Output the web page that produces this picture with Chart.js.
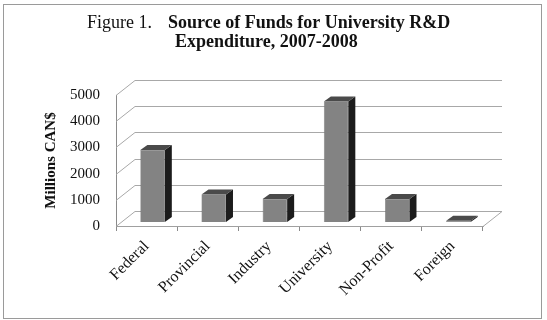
<!DOCTYPE html>
<html>
<head>
<meta charset="utf-8">
<script src="https://cdn.jsdelivr.net/npm/chart.js@4.4.1/dist/chart.umd.min.js"></script>
<style>
  html, body { margin: 0; padding: 0; background: #fff; }
  #wrap { width: 547px; height: 320px; }
</style>
</head>
<body>
<div id="wrap"><canvas id="fundsChart" width="547" height="320"></canvas></div>
<script>
// ===== DATA =====
const categories = ['Federal', 'Provincial', 'Industry', 'University', 'Non-Profit', 'Foreign'];
const fundsMillions = [2750, 1050, 880, 4600, 880, 50];
const yTicks = [0, 1000, 2000, 3000, 4000, 5000];

const SERIF = "'Liberation Serif', 'Times New Roman', serif";
const WALL_DX = 19, WALL_DY = 15;   // depth of back wall
const BAR_DX = 6, BAR_DY = 4;       // bars sit a little behind the front
const BAR_DEPTH_X = 7, BAR_DEPTH_Y = 5;

// ===== 3D-ish plugin: frame, title, walls, bar faces =====
const pseudo3d = {
  id: 'pseudo3d',
  beforeDraw(chart) {
    const { ctx } = chart;
    ctx.save();
    ctx.strokeStyle = '#9a9a9a';
    ctx.lineWidth = 1;
    ctx.strokeRect(3.5, 4.5, 538, 314);

    ctx.fillStyle = '#111';
    ctx.textBaseline = 'alphabetic';
    ctx.textAlign = 'left';
    ctx.font = '18px ' + SERIF;
    ctx.fillText('Figure 1.', 87, 28);
    ctx.font = 'bold 18px ' + SERIF;
    ctx.fillText('Source of Funds for University R&D', 168, 28);
    ctx.fillText('Expenditure, 2007-2008', 175, 47);
    ctx.restore();
  },
  beforeDatasetsDraw(chart) {
    const { ctx, chartArea: { left, right, bottom } } = chart;
    const y = chart.scales.y;
    ctx.save();
    ctx.strokeStyle = '#a8a8a8';
    ctx.lineWidth = 1;
    yTicks.forEach(v => {
      const py = Math.round(y.getPixelForValue(v)) + 0.5;
      ctx.beginPath();
      ctx.moveTo(left, py);
      ctx.lineTo(left + WALL_DX, py - WALL_DY);
      ctx.lineTo(right + WALL_DX, py - WALL_DY);
      ctx.stroke();
    });
    // right edge of the floor
    ctx.beginPath();
    ctx.moveTo(right, bottom + 0.5);
    ctx.lineTo(right + WALL_DX, bottom + 0.5 - WALL_DY);
    ctx.stroke();
    ctx.restore();

    ctx.save();
    ctx.translate(BAR_DX, -BAR_DY);
  },
  afterDatasetsDraw(chart) {
    const { ctx } = chart;
    chart.getDatasetMeta(0).data.forEach(bar => {
      const { x, y, base, width } = bar.getProps(['x', 'y', 'base', 'width'], true);
      const l = x - width / 2, r = x + width / 2;
      // side face
      ctx.fillStyle = '#1c1c1c';
      ctx.beginPath();
      ctx.moveTo(r, y);
      ctx.lineTo(r + BAR_DEPTH_X, y - BAR_DEPTH_Y);
      ctx.lineTo(r + BAR_DEPTH_X, base - BAR_DEPTH_Y);
      ctx.lineTo(r, base);
      ctx.closePath();
      ctx.fill();
      // top face
      ctx.fillStyle = '#4a4a4a';
      ctx.beginPath();
      ctx.moveTo(l, y);
      ctx.lineTo(l + BAR_DEPTH_X, y - BAR_DEPTH_Y);
      ctx.lineTo(r + BAR_DEPTH_X, y - BAR_DEPTH_Y);
      ctx.lineTo(r, y);
      ctx.closePath();
      ctx.fill();
    });
    ctx.restore();
  }
};

new Chart(document.getElementById('fundsChart'), {
  type: 'bar',
  data: {
    labels: categories,
    datasets: [{
      label: 'Millions CAN$',
      data: fundsMillions,
      backgroundColor: '#838383',
      borderColor: '#5e5e5e',
      borderWidth: 0.5,
      categoryPercentage: 0.4,
      barPercentage: 1
    }]
  },
  options: {
    responsive: false,
    animation: false,
    devicePixelRatio: 1,
    layout: { padding: { left: 0, top: 95, right: 64, bottom: 0 } },
    plugins: { legend: { display: false }, tooltip: { enabled: false } },
    scales: {
      x: {
        afterFit: s => { s.height = 94; },
        grid: { display: true, offset: true, drawOnChartArea: false, drawTicks: true, tickLength: 5, color: '#8a8a8a' },
        border: { display: true, color: '#a0a0a0' },
        ticks: { color: '#111', font: { family: SERIF, size: 16 }, minRotation: 45, maxRotation: 45, padding: 6 }
      },
      y: {
        min: 0,
        max: 5000,
        afterFit: s => { s.width = 116; },
        afterBuildTicks: s => { s.ticks = yTicks.map(v => ({ value: v })); },
        grid: { display: false, drawTicks: false },
        border: { display: true, color: '#8a8a8a' },
        ticks: { color: '#111', font: { family: SERIF, size: 15 }, padding: 16, callback: v => String(v) },
        title: {
          display: true,
          text: 'Millions CAN$',
          color: '#111',
          font: { family: SERIF, size: 15, weight: 'bold' },
          padding: { top: 42, bottom: 0 }
        }
      }
    }
  },
  plugins: [pseudo3d]
});
</script>
</body>
</html>
